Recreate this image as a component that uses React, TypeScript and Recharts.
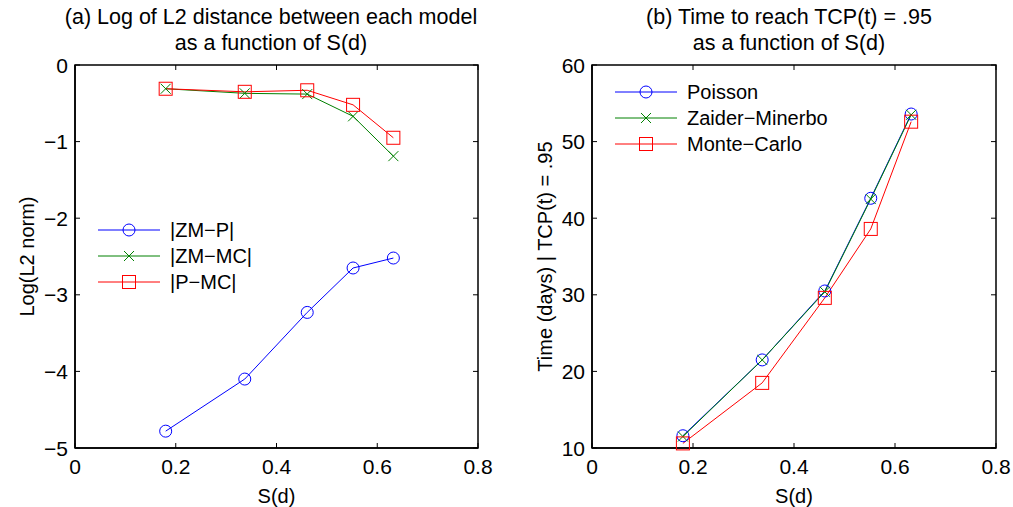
import React from 'react';
import { LineChart, Line, XAxis, YAxis, Legend, ReferenceArea, ReferenceLine } from 'recharts';

// S(d) values shared by both panels
const sValues = [0.18, 0.337, 0.461, 0.552, 0.632];

// (a) log of L2 distance
const zmP = [-4.78, -4.1, -3.23, -2.65, -2.52];
const zmMC = [-0.31, -0.37, -0.38, -0.67, -1.19];
const pMC = [-0.31, -0.35, -0.33, -0.52, -0.95];

// (b) time to reach TCP(t) = .95
const poisson = [11.6, 21.5, 30.5, 42.6, 53.6];
const zaider = [11.5, 21.5, 30.4, 42.5, 53.5];
const monteCarlo = [10.6, 18.5, 29.6, 38.6, 52.6];

const xTicks = [0, 0.2, 0.4, 0.6, 0.8];
const leftYTicks = [-5, -4, -3, -2, -1, 0];
const rightYTicks = [10, 20, 30, 40, 50, 60];

const leftData = sValues.map((s, i) => ({ s, zmP: zmP[i], zmMC: zmMC[i], pMC: pMC[i] }));
const rightData = sValues.map((s, i) => ({
  s,
  poisson: poisson[i],
  zaider: zaider[i],
  monteCarlo: monteCarlo[i],
}));

const FONT = '"Liberation Sans", Arial, Helvetica, sans-serif';
const BLUE = '#0000ff';
const GREEN = '#008000';
const RED = '#ff0000';
const TICK = 5;
const FRAME_W = 1.5;

const fmt = (v: number) => String(v).replace('-', '\u2212');

const Marker = ({ kind, cx, cy, color }: any) => {
  if (cx == null || cy == null) return null;
  if (kind === 'circle') return <circle cx={cx} cy={cy} r={6} fill="none" stroke={color} strokeWidth={1} />;
  if (kind === 'x')
    return (
      <g stroke={color} strokeWidth={1}>
        <line x1={cx - 5} y1={cy - 5} x2={cx + 5} y2={cy + 5} />
        <line x1={cx - 5} y1={cy + 5} x2={cx + 5} y2={cy - 5} />
      </g>
    );
  return <rect x={cx - 6.5} y={cy - 6.5} width={13} height={13} fill="none" stroke={color} strokeWidth={1} />;
};

const dotOf = (kind: string, color: string) => (p: any) =>
  <Marker key={`${kind}-${p.index}`} kind={kind} cx={p.cx} cy={p.cy} color={color} />;

const BottomTick = ({ x, y, payload }: any) => (
  <g>
    <line x1={x} y1={y} x2={x} y2={y - TICK} stroke="#000" />
    <text x={x} y={y + 18} textAnchor="middle" dominantBaseline="central" fontSize={21} fontFamily={FONT} fill="#000">
      {fmt(payload.value)}
    </text>
  </g>
);
const LeftTick = ({ x, y, payload }: any) => (
  <g>
    <line x1={x} y1={y} x2={x + TICK} y2={y} stroke="#000" />
    <text x={x - 7} y={y} textAnchor="end" dominantBaseline="central" fontSize={21} fontFamily={FONT} fill="#000">
      {fmt(payload.value)}
    </text>
  </g>
);

// short inward tick on the top / right edge of the box, drawn as a ReferenceLine shape
const EdgeTick = ({ side }: { side: 'top' | 'right' }) => (props: any) => {
  const { x1, y1, x2, y2 } = props;
  if (side === 'top') {
    const top = Math.min(y1, y2);
    return <line x1={x1} y1={top} x2={x1} y2={top + TICK} stroke="#000" strokeWidth={1} />;
  }
  const right = Math.max(x1, x2);
  return <line x1={right} y1={y1} x2={right - TICK} y2={y1} stroke="#000" strokeWidth={1} />;
};

const LegendBox = ({ items }: { items: { name: string; kind: string; color: string }[] }) => (
  <svg width={260} height={items.length * 26 + 4} style={{ display: 'block' }}>
    {items.map((it, i) => {
      const cy = 13 + i * 26;
      return (
        <g key={it.name}>
          <line x1={0} y1={cy} x2={62} y2={cy} stroke={it.color} strokeWidth={1} />
          <Marker kind={it.kind} cx={31} cy={cy} color={it.color} />
          <text x={72} y={cy} dominantBaseline="central" fontSize={20} fontFamily={FONT} fill="#000">
            {it.name}
          </text>
        </g>
      );
    })}
  </svg>
);

const leftLegend = [
  { name: '|ZM\u2212P|', kind: 'circle', color: BLUE },
  { name: '|ZM\u2212MC|', kind: 'x', color: GREEN },
  { name: '|P\u2212MC|', kind: 'square', color: RED },
];
const rightLegend = [
  { name: 'Poisson', kind: 'circle', color: BLUE },
  { name: 'Zaider\u2212Minerbo', kind: 'x', color: GREEN },
  { name: 'Monte\u2212Carlo', kind: 'square', color: RED },
];

const Title = ({ lines, center }: { lines: string[]; center: number }) => (
  <div
    style={{
      position: 'absolute',
      left: center - 250,
      top: 4,
      width: 500,
      textAlign: 'center',
      fontFamily: FONT,
      fontSize: 21.5,
      lineHeight: '26px',
      color: '#000',
    }}
  >
    {lines.map((l) => (
      <div key={l}>{l}</div>
    ))}
  </div>
);

// box around the plot plus the inner ticks on its top and right edges
const frame = (yDomain: number[], yTicks: number[]) => [
  <ReferenceArea
    key="box"
    x1={0}
    x2={0.8}
    y1={yDomain[0]}
    y2={yDomain[1]}
    ifOverflow="visible"
    fill="none"
    fillOpacity={0}
    stroke="#000"
    strokeWidth={FRAME_W}
  />,
  ...xTicks.map((t) => (
    <ReferenceLine key={`tx${t}`} x={t} ifOverflow="visible" stroke="none" shape={EdgeTick({ side: 'top' })} />
  )),
  ...yTicks.map((t) => (
    <ReferenceLine key={`ty${t}`} y={t} ifOverflow="visible" stroke="none" shape={EdgeTick({ side: 'right' })} />
  )),
];

export default function App() {
  return (
    <div style={{ position: 'absolute', left: 0, top: 0, width: 1013, height: 507, background: '#fff' }}>
      <Title lines={['(a) Log of L2 distance between each model', 'as a function of S(d)']} center={271} />
      <Title lines={['(b) Time to reach TCP(t) = .95', 'as a function of S(d)']} center={789} />

      <div style={{ position: 'absolute', left: 0, top: 0 }}>
        <LineChart width={506} height={507} data={leftData} margin={{ top: 65, right: 28, bottom: 0, left: 10 }}>
          <XAxis
            dataKey="s"
            type="number"
            domain={[0, 0.8]}
            ticks={xTicks}
            height={59}
            tickSize={0}
            tickMargin={0}
            tick={<BottomTick />}
            axisLine={{ stroke: '#000', strokeWidth: FRAME_W }}
            label={{ value: 'S(d)', position: 'insideBottom', offset: 4, fontSize: 20, fontFamily: FONT, fill: '#000' }}
          />
          <YAxis
            type="number"
            domain={[-5, 0]}
            ticks={leftYTicks}
            width={65}
            tickSize={0}
            tickMargin={0}
            tick={<LeftTick />}
            axisLine={{ stroke: '#000', strokeWidth: FRAME_W }}
            label={{ value: 'Log(L2 norm)', angle: -90, position: 'insideLeft', offset: 17, fontSize: 20, fontFamily: FONT, fill: '#000', style: { textAnchor: 'middle' } }}
          />
          {frame([-5, 0], leftYTicks)}
          <Legend
            layout="horizontal"
            verticalAlign="middle"
            align="center"
            content={() => <LegendBox items={leftLegend} />}
            wrapperStyle={{ position: 'absolute', left: 98, top: 217, width: 260 }}
          />
          <Line dataKey="zmP" name="|ZM-P|" stroke={BLUE} strokeWidth={1} dot={dotOf('circle', BLUE)} isAnimationActive={false} />
          <Line dataKey="zmMC" name="|ZM-MC|" stroke={GREEN} strokeWidth={1} dot={dotOf('x', GREEN)} isAnimationActive={false} />
          <Line dataKey="pMC" name="|P-MC|" stroke={RED} strokeWidth={1} dot={dotOf('square', RED)} isAnimationActive={false} />
        </LineChart>
      </div>

      <div style={{ position: 'absolute', left: 506, top: 0 }}>
        <LineChart width={507} height={507} data={rightData} margin={{ top: 65, right: 17, bottom: 0, left: 16 }}>
          <XAxis
            dataKey="s"
            type="number"
            domain={[0, 0.8]}
            ticks={xTicks}
            height={59}
            tickSize={0}
            tickMargin={0}
            tick={<BottomTick />}
            axisLine={{ stroke: '#000', strokeWidth: FRAME_W }}
            label={{ value: 'S(d)', position: 'insideBottom', offset: 4, fontSize: 20, fontFamily: FONT, fill: '#000' }}
          />
          <YAxis
            type="number"
            domain={[10, 60]}
            ticks={rightYTicks}
            width={70}
            tickSize={0}
            tickMargin={0}
            tick={<LeftTick />}
            axisLine={{ stroke: '#000', strokeWidth: FRAME_W }}
            label={{ value: 'Time (days) | TCP(t) = .95', angle: -90, position: 'insideLeft', offset: 23, fontSize: 20, fontFamily: FONT, fill: '#000', style: { textAnchor: 'middle' } }}
          />
          {frame([10, 60], rightYTicks)}
          <Legend
            layout="horizontal"
            verticalAlign="middle"
            align="center"
            content={() => <LegendBox items={rightLegend} />}
            wrapperStyle={{ position: 'absolute', left: 109, top: 79, width: 260 }}
          />
          <Line dataKey="poisson" name="Poisson" stroke={BLUE} strokeWidth={1} dot={dotOf('circle', BLUE)} isAnimationActive={false} />
          <Line dataKey="zaider" name="Zaider-Minerbo" stroke={GREEN} strokeWidth={1} dot={dotOf('x', GREEN)} isAnimationActive={false} />
          <Line dataKey="monteCarlo" name="Monte-Carlo" stroke={RED} strokeWidth={1} dot={dotOf('square', RED)} isAnimationActive={false} />
        </LineChart>
      </div>
    </div>
  );
}
